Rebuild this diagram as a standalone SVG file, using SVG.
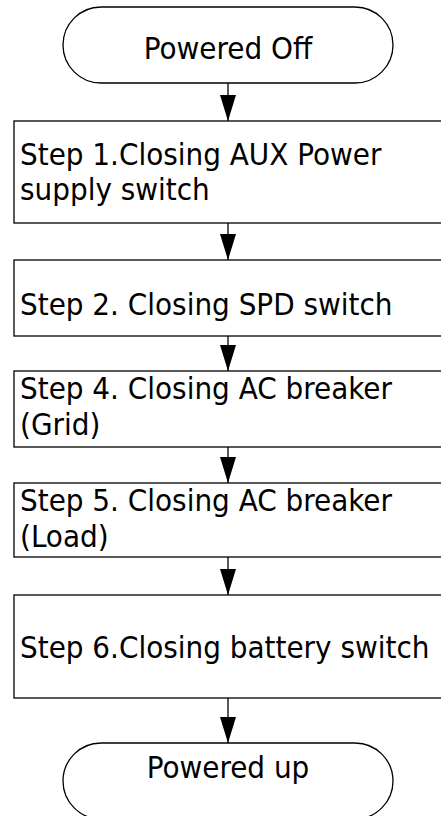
<svg xmlns="http://www.w3.org/2000/svg" width="441" height="816" viewBox="0 0 441 816">
<style>
.shape{fill:#ffffff;stroke:#000000;stroke-width:1.3}
.lbl{font-family:"DejaVu Sans Condensed","DejaVu Sans",sans-serif;font-stretch:condensed;font-size:31px;fill:#000000}
.mid{text-anchor:middle}
.conn{stroke:#000000;stroke-width:1.3;fill:none;marker-end:url(#arr)}
</style>
<defs>
<marker id="arr" markerUnits="userSpaceOnUse" markerWidth="26" markerHeight="18" viewBox="0 0 26 18" refX="26" refY="9" orient="auto">
<path d="M0,1 L26,9 L0,17 Z" fill="#000000"/>
</marker>
</defs>
<rect width="441" height="816" fill="#ffffff"/>
<g id="connectors">
<line class="conn" x1="228" y1="83" x2="228" y2="121"/>
<line class="conn" x1="228" y1="223" x2="228" y2="260"/>
<line class="conn" x1="228" y1="336" x2="228" y2="371"/>
<line class="conn" x1="228" y1="447" x2="228" y2="483"/>
<line class="conn" x1="228" y1="557" x2="228" y2="595"/>
<line class="conn" x1="228" y1="698" x2="228" y2="743"/>
</g>
<g id="start">
<rect class="shape" x="63" y="7" width="330" height="76" rx="38" ry="38"/>
<text class="lbl mid" x="228" y="59">Powered Off</text>
</g>
<g id="step1">
<rect class="shape" x="14" y="121" width="440" height="102"/>
<text class="lbl" x="20" y="165">Step 1.Closing AUX Power</text>
<text class="lbl" x="20" y="200">supply switch</text>
</g>
<g id="step2">
<rect class="shape" x="14" y="260" width="440" height="76"/>
<text class="lbl" x="20" y="315">Step 2. Closing SPD switch</text>
</g>
<g id="step4">
<rect class="shape" x="14" y="371" width="440" height="76"/>
<text class="lbl" x="20" y="399">Step 4. Closing AC breaker</text>
<text class="lbl" x="20" y="435">(Grid)</text>
</g>
<g id="step5">
<rect class="shape" x="14" y="483" width="440" height="74"/>
<text class="lbl" x="20" y="511">Step 5. Closing AC breaker</text>
<text class="lbl" x="20" y="547">(Load)</text>
</g>
<g id="step6">
<rect class="shape" x="14" y="595" width="440" height="103"/>
<text class="lbl" x="20" y="658">Step 6.Closing battery switch</text>
</g>
<g id="end">
<rect class="shape" x="63" y="743" width="330" height="76" rx="38" ry="38"/>
<text class="lbl mid" x="228" y="778">Powered up</text>
</g>
</svg>
